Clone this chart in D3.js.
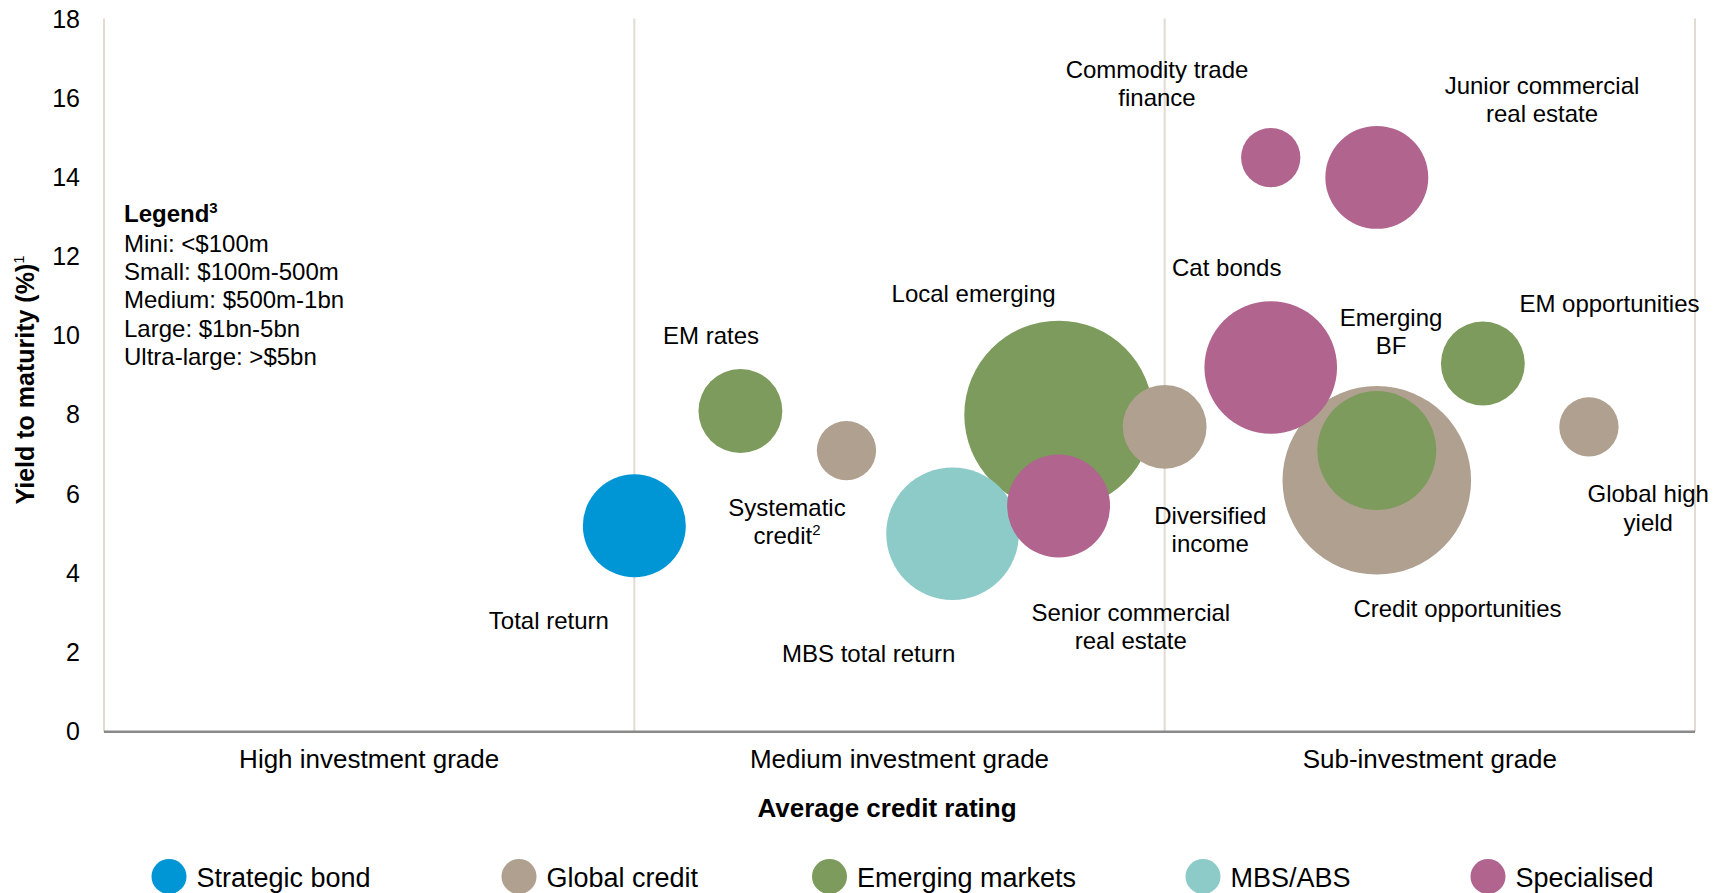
<!DOCTYPE html>
<html>
<head>
<meta charset="utf-8">
<script src="https://cdn.jsdelivr.net/npm/d3@7"></script>
<style>
  html, body { margin: 0; padding: 0; background: #fff; }
  svg { display: block; font-family: "Liberation Sans", Arial, Helvetica, sans-serif; }
</style>
</head>
<body>
<script>
// ---------------- DATA ----------------
const categories = ["High investment grade", "Medium investment grade", "Sub-investment grade"];
const yTicks = [0, 2, 4, 6, 8, 10, 12, 14, 16, 18];
const seriesNames = ["Strategic bond", "Global credit", "Emerging markets", "MBS/ABS", "Specialised"];

const fundNames = ["Total return", "EM rates", "Systematic credit", "MBS total return", "Local emerging",
  "Senior commercial real estate", "Diversified income", "Cat bonds", "Commodity trade finance",
  "Junior commercial real estate", "Credit opportunities", "Emerging BF", "EM opportunities", "Global high yield"];
const fundSeries = [0, 2, 1, 3, 2, 4, 1, 4, 4, 4, 1, 2, 2, 1];
// position along the average credit rating axis (0 = left edge, 3 = right edge)
const fundRating = [1.0, 1.2, 1.4, 1.6, 1.8, 1.8, 2.0, 2.2, 2.2, 2.4, 2.4, 2.4, 2.6, 2.8];
const fundYield  = [5.2, 8.1, 7.1, 5.0, 8.0, 5.7, 7.7, 9.2, 14.5, 14.0, 6.35, 7.1, 9.3, 7.7];
const fundSize   = [26.5, 17.6, 8.8, 44, 89, 26.5, 17.6, 44, 8.8, 26.5, 89, 35.4, 17.6, 8.8];

const sizeLegendTitle = "Legend";
const sizeLegendLines = ["Mini: <$100m", "Small: $100m-500m", "Medium: $500m-1bn", "Large: $1bn-5bn", "Ultra-large: >$5bn"];

// ---------------- STYLE / LAYOUT ----------------
const seriesColors = ["#0096d6", "#b0a090", "#7d9b5c", "#8ccbc8", "#b0648e"];
const labelLines = {
  "Total return": [["Total return"]],
  "EM rates": [["EM rates"]],
  "Systematic credit": [["Systematic"], ["credit", "2"]],
  "MBS total return": [["MBS total return"]],
  "Local emerging": [["Local emerging"]],
  "Senior commercial real estate": [["Senior commercial"], ["real estate"]],
  "Diversified income": [["Diversified"], ["income"]],
  "Cat bonds": [["Cat bonds"]],
  "Commodity trade finance": [["Commodity trade"], ["finance"]],
  "Junior commercial real estate": [["Junior commercial"], ["real estate"]],
  "Credit opportunities": [["Credit opportunities"]],
  "Emerging BF": [["Emerging"], ["BF"]],
  "EM opportunities": [["EM opportunities"]],
  "Global high yield": [["Global high"], ["yield"]]
};
// offsets (px) from bubble centre to label centre / first baseline
const labelOffsets = {
  "Total return": [-85.5, 103.3],
  "EM rates": [-29.4, -67],
  "Systematic credit": [-59.5, 65],
  "MBS total return": [-83.8, 128],
  "Local emerging": [-85, -113.3],
  "Senior commercial real estate": [72.2, 114.5],
  "Diversified income": [45.6, 97.2],
  "Cat bonds": [-44, -91.6],
  "Commodity trade finance": [-113.7, -80],
  "Junior commercial real estate": [165.2, -83.6],
  "Credit opportunities": [80.7, 136.5],
  "Emerging BF": [14.2, -124.4],
  "EM opportunities": [126.6, -51.2],
  "Global high yield": [59.3, 75.4]
};
const legendX = [169, 519, 829.5, 1203, 1488];

const W = 1725, H = 893;
const plotL = 104, plotR = 1695, plotT = 19, plotB = 731.7;

const svg = d3.select("body").append("svg").attr("width", W).attr("height", H);

const x = d3.scaleLinear().domain([0, 3]).range([plotL, plotR]);
const y = d3.scaleLinear().domain([0, 18]).range([plotB, plotT]);
const r = d3.scaleSqrt().domain([0, 89]).range([0, 94.3]);
const band = d3.scaleBand().domain(categories).range([plotL, plotR]);

// vertical divider lines
svg.append("g").selectAll("line").data([0, 1, 2, 3]).join("line")
  .attr("x1", d => x(d)).attr("x2", d => x(d))
  .attr("y1", y(18) - 0.5).attr("y2", plotB)
  .attr("stroke", "#e2dbd2").attr("stroke-width", 2);

// y axis
const yAxis = svg.append("g").attr("transform", "translate(80,0)")
  .call(d3.axisLeft(y).tickValues(yTicks).tickSize(0).tickPadding(0));
yAxis.select(".domain").remove();
yAxis.selectAll("text").attr("font-size", 25).attr("fill", "#000")
  .attr("font-family", "'Liberation Sans', Arial, sans-serif");

// category axis
const xAxis = svg.append("g").attr("transform", `translate(0,${plotB})`)
  .call(d3.axisBottom(band).tickSize(0));
xAxis.select(".domain").remove();
xAxis.selectAll("text").attr("font-size", 26).attr("fill", "#000")
  .attr("y", 36.3).attr("dy", 0)
  .attr("font-family", "'Liberation Sans', Arial, sans-serif");

// bubbles (largest first so smaller ones sit on top)
const funds = fundNames.map((n, i) => ({
  name: n, series: fundSeries[i], rating: fundRating[i], yld: fundYield[i], size: fundSize[i]
}));
const sorted = funds.slice().sort((a, b) => b.size - a.size);
svg.append("g").selectAll("circle").data(sorted).join("circle")
  .attr("cx", d => x(d.rating)).attr("cy", d => y(d.yld)).attr("r", d => r(d.size))
  .attr("fill", d => seriesColors[d.series]);

// x axis line
svg.append("line").attr("x1", plotL).attr("x2", plotR).attr("y1", plotB).attr("y2", plotB)
  .attr("stroke", "#8a8a8a").attr("stroke-width", 2.5);

// bubble labels
const lab = svg.append("g").attr("font-size", 24).attr("fill", "#000").attr("text-anchor", "middle");
funds.forEach(d => {
  const off = labelOffsets[d.name];
  const cx = x(d.rating) + off[0], cy = y(d.yld) + off[1];
  labelLines[d.name].forEach((parts, li) => {
    const t = lab.append("text").attr("x", cx).attr("y", cy + li * 28.3);
    t.append("tspan").text(parts[0]);
    if (parts[1]) t.append("tspan").attr("font-size", 15).attr("dy", -9).text(parts[1]);
  });
});

// size legend
const sl = svg.append("g").attr("font-size", 24).attr("fill", "#000");
const st = sl.append("text").attr("x", 124).attr("y", 221.7).attr("font-weight", "bold");
st.append("tspan").text(sizeLegendTitle);
st.append("tspan").attr("font-size", 15).attr("dy", -9).text("3");
sizeLegendLines.forEach((l, i) => {
  sl.append("text").attr("x", 124).attr("y", 251.7 + i * 28.3).text(l);
});

// axis titles
const yt = svg.append("text").attr("transform", "translate(34,380) rotate(-90)")
  .attr("text-anchor", "middle").attr("font-size", 25).attr("font-weight", "bold").attr("fill", "#000");
yt.append("tspan").text("Yield to maturity (%)");
yt.append("tspan").attr("font-size", 15).attr("dy", -10).attr("font-weight", "normal").text("1");

svg.append("text").attr("x", 887).attr("y", 817).attr("text-anchor", "middle")
  .attr("font-size", 26).attr("font-weight", "bold").attr("fill", "#000").text("Average credit rating");

// series legend
const lg = svg.append("g");
seriesNames.forEach((n, i) => {
  lg.append("circle").attr("cx", legendX[i]).attr("cy", 876.5).attr("r", 17.5).attr("fill", seriesColors[i]);
  lg.append("text").attr("x", legendX[i] + 27.5).attr("y", 886.7).attr("font-size", 27).attr("fill", "#000").text(n);
});
</script>
</body>
</html>
